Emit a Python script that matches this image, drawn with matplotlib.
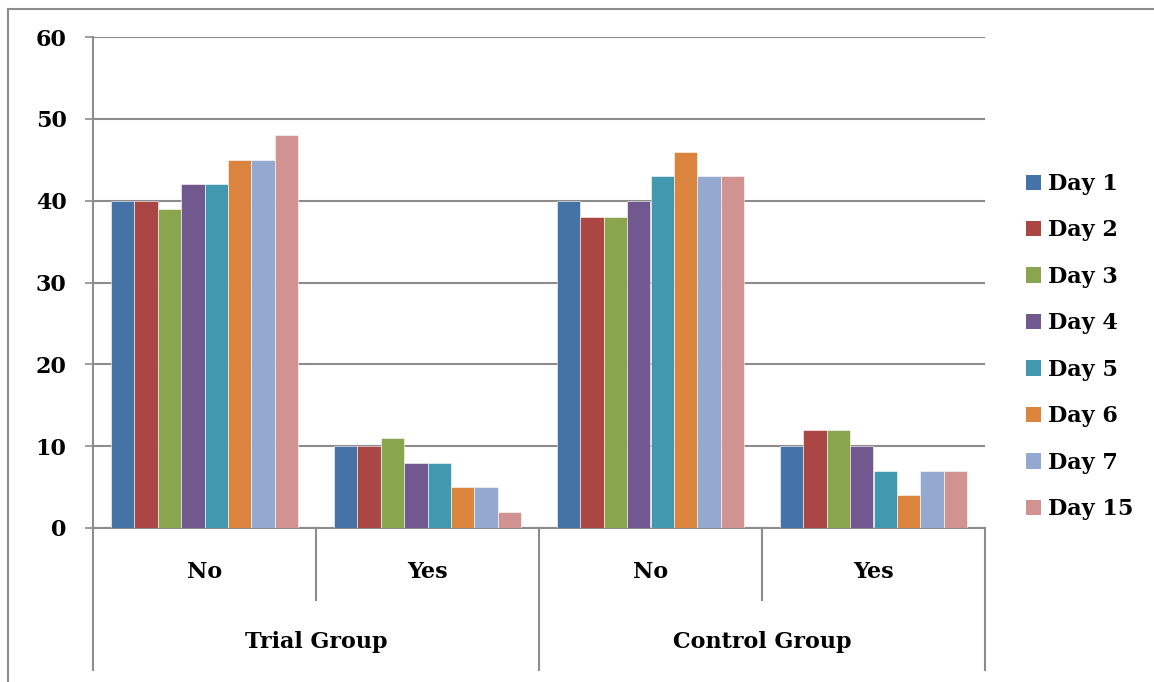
import matplotlib.pyplot as plt
from matplotlib.patches import Patch
from matplotlib.lines import Line2D
import numpy as np

# Counts per day for each response within each group
days = ["Day 1", "Day 2", "Day 3", "Day 4", "Day 5", "Day 6", "Day 7", "Day 15"]
groups = ["Trial Group", "Control Group"]
responses = ["No", "Yes"]

trial_no = [40, 40, 39, 42, 42, 45, 45, 48]
trial_yes = [10, 10, 11, 8, 8, 5, 5, 2]
control_no = [40, 38, 38, 40, 43, 46, 43, 43]
control_yes = [10, 12, 12, 10, 7, 4, 7, 7]

colors = ["#4572A7", "#AA4643", "#89A54E", "#71588F",
          "#4198AF", "#DB843D", "#93A9CF", "#D19392"]

font = {"family": "DejaVu Serif", "weight": "bold"}
fsize = 16
grid_color = "#8c8c8c"

fig = plt.figure(figsize=(11.54, 6.82), dpi=100, facecolor="white")
ax = fig.add_axes([93 / 1154, 1 - 528 / 682, 892 / 1154, 491 / 682])

series = np.array([trial_no, trial_yes, control_no, control_yes])  # shape (4, 8)
n_cat = series.shape[0]
centers = np.arange(n_cat) + 0.5
w = 1 / 9.5

for i, day in enumerate(days):
    ax.bar(centers + (i - 3.5) * w, series[:, i], width=w, color=colors[i],
           edgecolor="white", linewidth=0.4, label=day, zorder=3)

ax.set_xlim(0, n_cat)
ax.set_ylim(0, 60)
ax.set_yticks(range(0, 61, 10))
ax.yaxis.grid(True, color=grid_color, linewidth=1.5, zorder=0)
ax.set_axisbelow(True)
for lbl in ax.get_yticklabels():
    lbl.set_fontfamily("DejaVu Serif")
    lbl.set_fontweight("bold")
    lbl.set_fontsize(fsize)
ax.tick_params(axis="y", length=6, width=1.2, color=grid_color, pad=13)
ax.set_xticks([])

for side in ["top", "right"]:
    ax.spines[side].set_visible(False)
for side in ["left", "bottom"]:
    ax.spines[side].set_color(grid_color)
    ax.spines[side].set_linewidth(1.5)

# two-level category axis: response labels then group labels
y_resp = -44 / 491
y_group = -114 / 491
y_short = -72 / 491
y_long = -142 / 491
for k in range(n_cat + 1):
    y_end = y_long if k % 2 == 0 else y_short
    ax.plot([k, k], [0, y_end], color=grid_color, linewidth=1.5,
            transform=ax.get_xaxis_transform(), clip_on=False)
for k in range(n_cat):
    ax.text(centers[k], y_resp, responses[k % 2], ha="center", va="center",
            fontsize=fsize, transform=ax.get_xaxis_transform(), **font)
for g, name in enumerate(groups):
    ax.text(2 * g + 1, y_group, name, ha="center", va="center",
            fontsize=fsize, transform=ax.get_xaxis_transform(), **font)

handles = [Patch(facecolor=c, edgecolor="none") for c in colors]
fig.legend(handles, days, loc="upper left",
           bbox_to_anchor=(1026 / 1154, 1 - 173 / 682),
           frameon=False, prop={"family": "DejaVu Serif", "weight": "bold", "size": fsize},
           handlelength=0.68, handleheight=0.68, handletextpad=0.3,
           labelspacing=1.1, borderaxespad=0, borderpad=0)

# outer chart border (top and left edges)
fig.add_artist(Line2D([8 / 1154, 1], [1 - 9 / 682] * 2, color=grid_color,
                      linewidth=1.5, transform=fig.transFigure))
fig.add_artist(Line2D([8 / 1154] * 2, [0, 1 - 9 / 682], color=grid_color,
                      linewidth=1.5, transform=fig.transFigure))

fig.savefig("out.png", dpi=100)
